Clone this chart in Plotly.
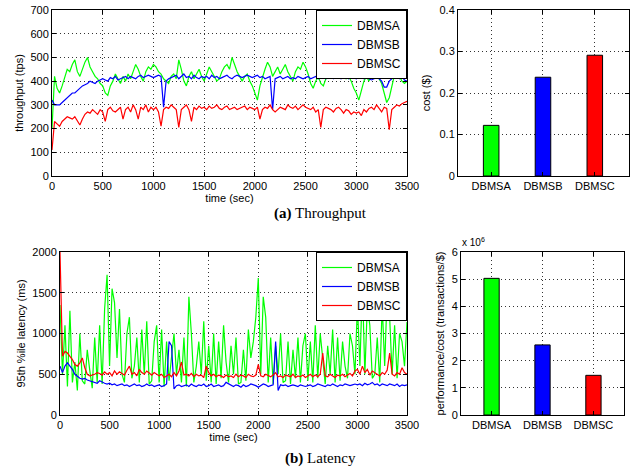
import plotly.graph_objects as go

# ---------------- data ----------------
time_sec = list(range(0, 3501, 25))
systems = ["DBMSA", "DBMSB", "DBMSC"]

thr_dbmsa = [200,420,370,350,380,420,450,440,470,490,440,420,450,480,500,460,440,420,410,390,
             380,350,340,380,400,430,410,390,420,400,430,410,440,470,450,420,400,440,460,450,
             470,460,440,430,410,400,390,420,430,410,490,450,400,380,420,440,410,430,450,420,
             400,430,460,440,420,400,410,440,460,470,450,500,470,440,420,400,420,430,400,380,
             350,320,380,420,450,480,460,420,440,460,430,450,470,440,420,400,440,460,450,480,
             460,430,390,370,400,420,390,380,410,440,460,430,410,440,460,430,410,420,400,370,
             350,320,360,400,420,400,430,460,440,410,390,350,310,330,380,430,470,420,400,390,
             400]
thr_dbmsb = [320,300,300,300,310,320,330,340,350,350,360,370,380,385,390,400,395,390,400,405,
             410,405,400,415,410,420,405,410,415,420,410,420,415,410,420,425,415,420,425,420,
             415,420,425,420,290,400,410,415,420,425,410,420,430,415,420,410,425,415,410,420,
             415,420,410,425,415,420,410,415,420,425,415,410,420,425,420,415,420,425,420,415,
             420,425,415,420,410,415,420,280,410,415,420,410,415,420,410,415,410,420,415,410,
             415,420,410,415,420,410,415,420,410,415,420,410,420,415,410,420,415,410,420,415,
             410,415,420,410,415,410,405,410,415,410,400,375,375,400,410,415,420,410,420,405,
             400]
thr_dbmsc = [110,230,220,210,230,240,250,245,240,250,230,215,240,260,270,265,280,270,260,280,
             270,230,280,290,275,270,280,290,240,280,290,270,300,280,240,290,280,300,270,290,
             280,290,270,210,280,290,285,300,290,280,205,280,290,300,280,230,290,280,295,285,
             290,280,295,285,290,300,285,280,290,295,280,285,290,280,285,290,295,280,290,285,
             280,290,240,280,290,285,300,280,270,280,290,285,280,300,290,285,295,280,290,300,
             290,285,280,290,270,280,205,280,290,285,280,270,285,290,280,265,280,275,260,270,
             265,270,255,280,270,285,290,280,300,285,270,290,285,195,280,290,300,295,305,310,
             315]

lat_dbmsa = [1350,500,1100,350,1280,400,650,300,1000,420,380,800,550,330,950,400,1100,380,1300,1720,
             600,1550,1380,700,1300,500,400,1000,1200,450,600,950,400,1050,500,1150,380,420,900,1100,
             400,1050,350,900,420,700,1000,500,800,400,950,350,1450,1000,400,600,900,500,1150,420,
             850,400,1000,380,900,450,1100,650,400,850,500,950,380,400,800,420,1050,700,900,1200,
             1680,500,1450,1200,400,950,380,850,500,1000,400,420,900,380,800,450,950,400,850,1000,
             420,900,400,1100,450,1000,700,380,850,500,1050,400,950,420,900,600,450,1000,850,500,
             1350,600,1600,500,1350,1100,450,500,950,400,1350,600,1500,1200,500,1100,450,1000,900,600,
             1140]
lat_dbmsb = [600,520,600,640,600,560,500,470,450,440,450,430,420,410,400,390,420,400,390,380,
             390,370,380,360,370,380,360,370,350,370,380,360,370,350,360,380,360,370,350,360,
             370,350,360,380,900,850,320,360,370,350,360,370,350,380,360,350,370,360,380,350,
             360,380,350,360,370,350,360,400,380,360,350,370,360,340,370,350,360,380,370,360,
             340,360,380,370,350,360,370,900,300,370,360,370,350,360,370,360,350,370,360,350,
             360,370,350,360,380,370,360,350,370,360,380,360,350,370,360,380,370,360,370,380,
             370,380,360,390,370,380,400,370,380,360,380,370,360,380,370,360,380,350,370,360,
             370]
lat_dbmsc = [2000,720,780,760,720,680,620,600,640,700,580,500,480,490,500,520,510,490,530,500,
             520,480,540,500,530,510,490,550,600,500,520,480,560,520,500,540,510,490,520,500,
             480,500,460,480,500,470,520,480,540,650,490,500,480,510,470,500,480,490,460,600,
             520,480,500,470,490,480,460,490,470,480,460,500,470,490,480,460,500,480,470,490,
             620,480,470,500,480,470,490,520,470,480,460,490,480,470,500,460,480,470,490,460,
             480,500,470,490,470,500,760,480,470,500,480,460,490,480,500,470,490,510,480,540,
             560,500,600,520,560,490,540,520,500,480,520,500,550,760,500,480,520,500,580,520,
             500]

cost_usd = [0.122, 0.238, 0.291]
perf_per_cost = [5.03e6, 2.58e6, 1.46e6]

for s in (thr_dbmsa, thr_dbmsb, thr_dbmsc, lat_dbmsa, lat_dbmsb, lat_dbmsc):
    assert len(s) == len(time_sec), len(s)

colors = ["#00ff00", "#0000ff", "#ff0000"]

# ---------------- figure ----------------
W, H = 632, 468
FONT = "Liberation Sans, Arial, Helvetica, sans-serif"

def px_x(a, b):
    return [a / W, b / W]

def px_y(top, bottom):
    return [1 - bottom / H, 1 - top / H]

fig = go.Figure()

thr = [thr_dbmsa, thr_dbmsb, thr_dbmsc]
lat = [lat_dbmsa, lat_dbmsb, lat_dbmsc]
for i, name in enumerate(systems):
    fig.add_trace(go.Scatter(x=time_sec, y=thr[i], mode="lines", name=name,
                             line=dict(color=colors[i], width=1.2),
                             xaxis="x", yaxis="y", legend="legend"))
for i, name in enumerate(systems):
    fig.add_trace(go.Scatter(x=time_sec, y=lat[i], mode="lines", name=name,
                             line=dict(color=colors[i], width=1.2),
                             xaxis="x3", yaxis="y3", legend="legend2"))

fig.add_trace(go.Bar(x=systems, y=cost_usd, marker=dict(color=colors, line=dict(color="black", width=1)),
                     width=0.3, showlegend=False, xaxis="x2", yaxis="y2"))
fig.add_trace(go.Bar(x=systems, y=perf_per_cost, marker=dict(color=colors, line=dict(color="black", width=1)),
                     width=0.3, showlegend=False, xaxis="x4", yaxis="y4"))

axis_common = dict(showline=True, linecolor="black", linewidth=1, mirror="ticks",
                   ticks="inside", ticklen=4, tickcolor="black", automargin=False,
                   showgrid=True, gridcolor="#333333", griddash="1px,3px", gridwidth=1,
                   zeroline=False, tickfont=dict(size=11, color="black", family=FONT),
                   title_font=dict(size=11, color="black", family=FONT))

top_y = px_y(10, 176)
bot_y = px_y(252, 415)

fig.update_layout(
    width=W, height=H, margin=dict(l=0, r=0, t=0, b=0, autoexpand=False),
    paper_bgcolor="white", plot_bgcolor="white",
    font=dict(family=FONT, size=11, color="black"),
    xaxis=dict(domain=px_x(52, 407), range=[0, 3500], dtick=500, anchor="y",
               title=dict(text="time (sec)", standoff=2), **axis_common),
    yaxis=dict(domain=top_y, range=[0, 700], dtick=100, anchor="x",
               title=dict(text="throughput (tps)", standoff=4), **axis_common),
    xaxis2=dict(domain=px_x(458, 629), range=[-0.64, 2.66], anchor="y2", type="category",
                **axis_common),
    yaxis2=dict(domain=top_y, range=[0, 0.4], dtick=0.1, anchor="x2",
                title=dict(text="cost ($)", standoff=6), **axis_common),
    xaxis3=dict(domain=px_x(60, 407), range=[0, 3500], dtick=500, anchor="y3",
                title=dict(text="time (sec)", standoff=2), **axis_common),
    yaxis3=dict(domain=bot_y, range=[0, 2000], dtick=500, anchor="x3",
                title=dict(text="95th %ile latency (ms)", standoff=4), **axis_common),
    xaxis4=dict(domain=px_x(461, 624), range=[-0.6, 2.6], anchor="y4", type="category",
                **axis_common),
    yaxis4=dict(domain=bot_y, range=[0, 6e6], anchor="x4",
                tickvals=[0, 1e6, 2e6, 3e6, 4e6, 5e6, 6e6],
                ticktext=["0", "1", "2", "3", "4", "5", "6"],
                title=dict(text="performance/cost (transactions/$)", standoff=4), **axis_common),
    legend=dict(x=407 / W, y=1 - 10 / H, xanchor="right", yanchor="top",
                bgcolor="white", bordercolor="black", borderwidth=1,
                font=dict(size=12, family=FONT, color="black"), tracegroupgap=0),
    legend2=dict(x=407 / W, y=1 - 252 / H, xanchor="right", yanchor="top",
                 bgcolor="white", bordercolor="black", borderwidth=1,
                 font=dict(size=12, family=FONT, color="black"), tracegroupgap=0),
    showlegend=True,
)

fig.add_annotation(x=320 / W, y=1 - 214 / H, xref="paper", yref="paper",
                   text="<b>(a)</b> Throughput", showarrow=False,
                   font=dict(family="Liberation Serif, Times New Roman, serif", size=15, color="black"),
                   xanchor="center", yanchor="middle")
fig.add_annotation(x=320 / W, y=1 - 458 / H, xref="paper", yref="paper",
                   text="<b>(b)</b> Latency", showarrow=False,
                   font=dict(family="Liberation Serif, Times New Roman, serif", size=15, color="black"),
                   xanchor="center", yanchor="middle")
fig.add_annotation(x=460 / W, y=1 - 250 / H, xref="paper", yref="paper",
                   text="x 10<sup>6</sup>", showarrow=False,
                   font=dict(family=FONT, size=10, color="black"),
                   xanchor="left", yanchor="bottom")

fig.write_html("out.html", config={"displayModeBar": False},
               post_script="document.body.style.margin='0';document.body.style.padding='0';")
